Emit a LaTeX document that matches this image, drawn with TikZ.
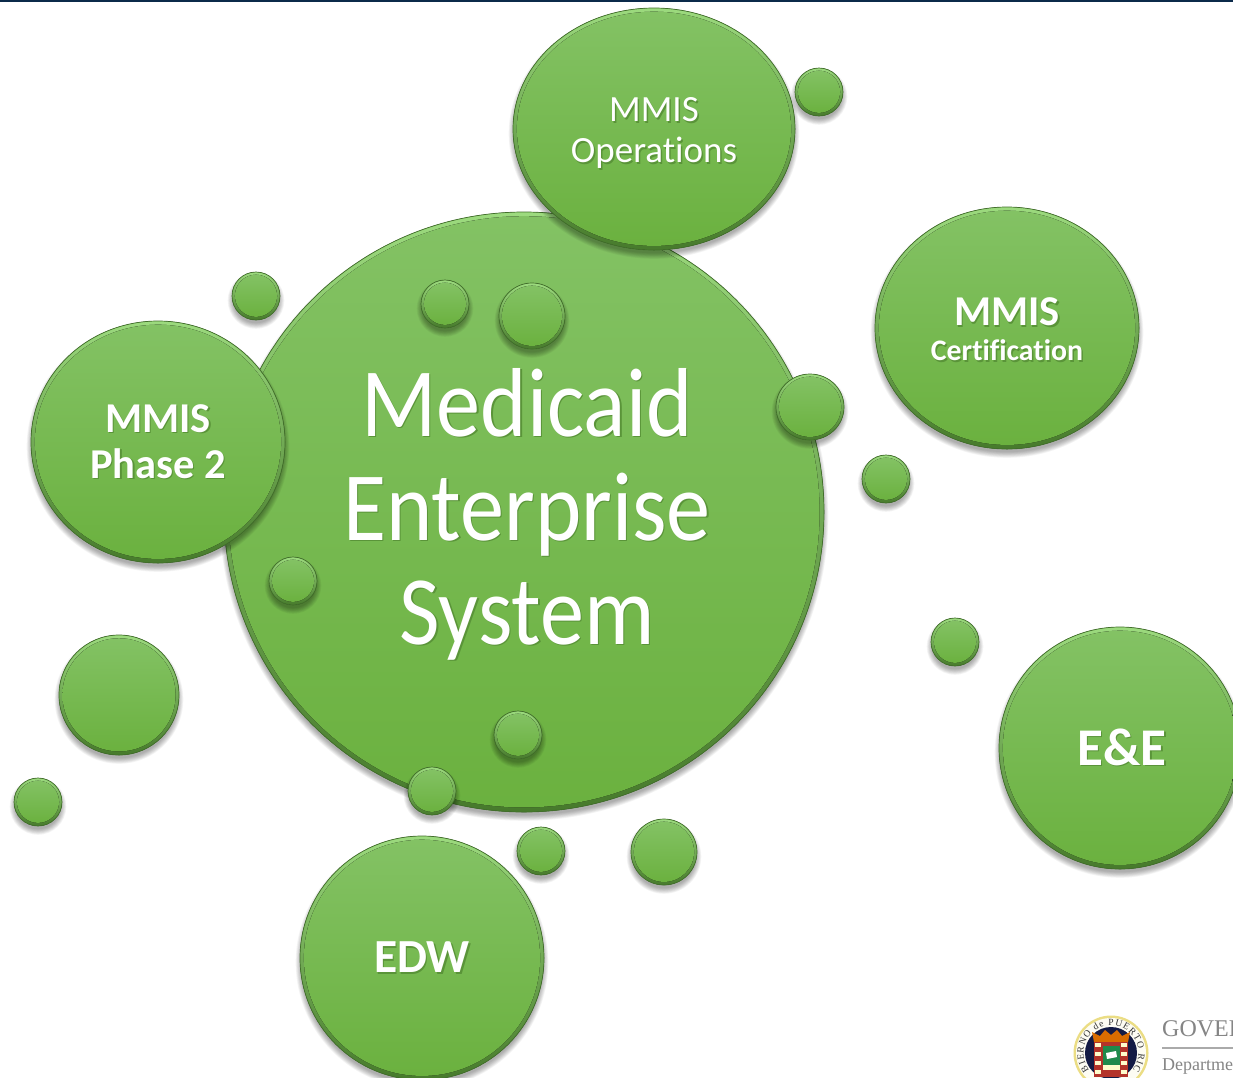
\documentclass[tikz,border=0pt]{standalone}
\usepackage{fontspec}
\setmainfont[Ligatures=NoCommon]{Carlito}
\newfontfamily\logofont{Liberation Serif}
\newfontfamily\mainlabelfont[Ligatures=NoCommon,FakeStretch=0.9]{Carlito}
\usetikzlibrary{shapes.geometric,decorations.text}
\definecolor{rimdark}{HTML}{42702B}
\definecolor{rimtop}{HTML}{9CDA7E}
\definecolor{rimbot}{HTML}{477A2C}
\definecolor{facetop}{HTML}{83C264}
\definecolor{facemid}{HTML}{74B84C}
\definecolor{facebot}{HTML}{6BB13F}
\definecolor{txtshade}{HTML}{5A9439}
\definecolor{barnavy}{HTML}{0B2A4A}
\definecolor{sealgold}{HTML}{EBDD84}
\definecolor{sealnavy}{HTML}{141B45}
\definecolor{sealred}{HTML}{B3332A}
\definecolor{sealgreen}{HTML}{1F8A4C}
\definecolor{loggray}{HTML}{858585}
\tikzset{
  bubtext/.style={ellipse,inner sep=0pt,text=white,align=center},
  bubshade/.style={black,opacity=0.04},
  labeltext/.style={inner sep=0pt,text=white,align=center},
  loglabel/.style={anchor=base west,inner sep=0pt,text=loggray},
}
% name, cx, cy, rx, ry, bevel, font, text
\newcommand{\bubble}[8]{%
  \foreach \g in {9,8,...,1}{%
    \fill[bubshade] (#2,#3+4.5) ellipse[x radius=#4+\g*0.7-2,y radius=#5+\g*0.7-2];
  }
  \fill[top color=rimtop,bottom color=rimbot,draw=rimdark,line width=0.7pt] (#2,#3) ellipse[x radius=#4,y radius=#5];
  \foreach \k/\o in {1.0/0.4,0.75/0.5,0.5/1}{%
    \fill[top color=facetop,middle color=facemid,bottom color=facebot,opacity=\o] (#2,#3-0.2) ellipse[x radius=#4-#6*\k-0.4,y radius=#5-#6*\k-0.4];
  }
  \node[bubtext,minimum width=2*#4 pt,minimum height=2*#5 pt,font=#7] (#1) at (#2,#3) {#8};
}
\newcommand{\shtext}[1]{\leavevmode\rlap{\kern1.5pt\raisebox{-1.5pt}{\textcolor{txtshade}{#1}}}#1}
\begin{document}
\begin{tikzpicture}[x=1pt,y=-1pt]
\useasboundingbox (0,0) rectangle (1233,1077);
\clip (0,0) rectangle (1233,1077);
\fill[white] (0,0) rectangle (1233,1077);
\fill[barnavy] (0,0) rectangle (1233,1.6);
% main
\bubble{main}{524}{512}{300}{300}{8}{\small}{}
\node[labeltext,font=\mainlabelfont\fontsize{98}{104}\selectfont] (maintxt) at (527,515) {\shtext{Medicaid}\\\shtext{Enterprise}\\\shtext{System}};
% labelled bubbles
\bubble{ops}{654}{129}{141}{121}{7}{\small}{}
\node[labeltext,font=\fontsize{37}{41}\selectfont] (opstxt) at (654,134) {\shtext{MMIS}\\\shtext{Operations}};
\bubble{cert}{1007}{328}{132}{121}{7}{\small}{}
\node[labeltext,font=\fontsize{29.8}{35}\selectfont\bfseries] (certtxt) at (1007,330) {{\fontsize{42.5}{35}\selectfont\shtext{MMIS}}\\\shtext{Certification}};
\bubble{ph}{158}{442}{127}{121}{7}{\fontsize{42.5}{46}\selectfont\bfseries}{\shtext{MMIS}\\\shtext{Phase 2}}
\bubble{ee}{1120}{748}{121}{121}{7}{\fontsize{53}{56}\selectfont\bfseries}{\kern4pt\shtext{E\&E}}
\bubble{edw}{422}{958}{122}{122}{7}{\fontsize{47.5}{50}\selectfont\bfseries}{\shtext{EDW}}
\bubble{blank}{119}{695}{60}{60}{6}{\small}{}
% small bubbles
\bubble{s1}{819}{92}{24}{24}{5}{\small}{}
\bubble{s2}{256}{296}{24}{24}{5}{\small}{}
\bubble{s3}{445}{304}{24}{24}{5}{\small}{}
\bubble{s4}{532}{316}{33}{33}{5}{\small}{}
\bubble{s5}{810}{407}{34}{33}{5}{\small}{}
\bubble{s6}{886}{479}{24}{24}{5}{\small}{}
\bubble{s7}{293}{581}{24}{24}{5}{\small}{}
\bubble{s8}{955}{642}{24}{24}{5}{\small}{}
\bubble{s9}{518}{735}{24}{24}{5}{\small}{}
\bubble{s10}{432}{791}{24}{24}{5}{\small}{}
\bubble{s11}{541}{851}{24}{24}{5}{\small}{}
\bubble{s12}{664}{852}{33}{33}{5}{\small}{}
\bubble{s13}{38}{802}{24}{24}{5}{\small}{}
% seal
\fill[sealgold] (1111,1053) circle[radius=37.5];
\fill[white!90!sealgold] (1111,1053) circle[radius=35];
\fill[sealnavy] (1111,1053) circle[radius=26];
\path[decorate,decoration={text along path,text={|\logofont\fontsize{9.5}{11}\selectfont\color{black!80}|BIERNO de PUERTO RIC},text align={fit to path}}]
  (1111,1053) ++(142:27.5) arc[start angle=142,end angle=398,radius=27.5];
\fill[orange!85!black] (1094,1042) -- (1092,1032) -- (1100,1036) -- (1105,1030) -- (1111,1035) -- (1117,1030) -- (1122,1036) -- (1130,1032) -- (1128,1042) -- cycle;
\fill[sealred] (1094,1042) rectangle (1128,1077);
\foreach \yy in {1043,1052,1061,1070}{
  \fill[white!80!yellow] (1095,\yy) rectangle (1101,\yy+4);
  \fill[white!80!yellow] (1121,\yy) rectangle (1127,\yy+4);
}
\fill[sealgreen] (1103,1046) rectangle (1120,1065);
\fill[white] (1106,1053) -- (1116,1051) -- (1117,1057) -- (1107,1059) -- cycle;
\fill[white!80!yellow] (1103,1065) rectangle (1120,1070);
\fill[sealred] (1103,1070) rectangle (1120,1077);
% government text
\node[loglabel,font=\logofont\fontsize{24}{26}\selectfont] (gov) at (1162,1036) {GOVER};
\coordinate (ruleL) at (1162,1048);
\coordinate (ruleR) at (1233,1048);
\draw[loggray!70,line width=1.2pt] (ruleL) -- (ruleR);
\node[loglabel,font=\logofont\fontsize{18}{20}\selectfont] (dep) at (1162,1070) {Departme};
\end{tikzpicture}
\end{document}
